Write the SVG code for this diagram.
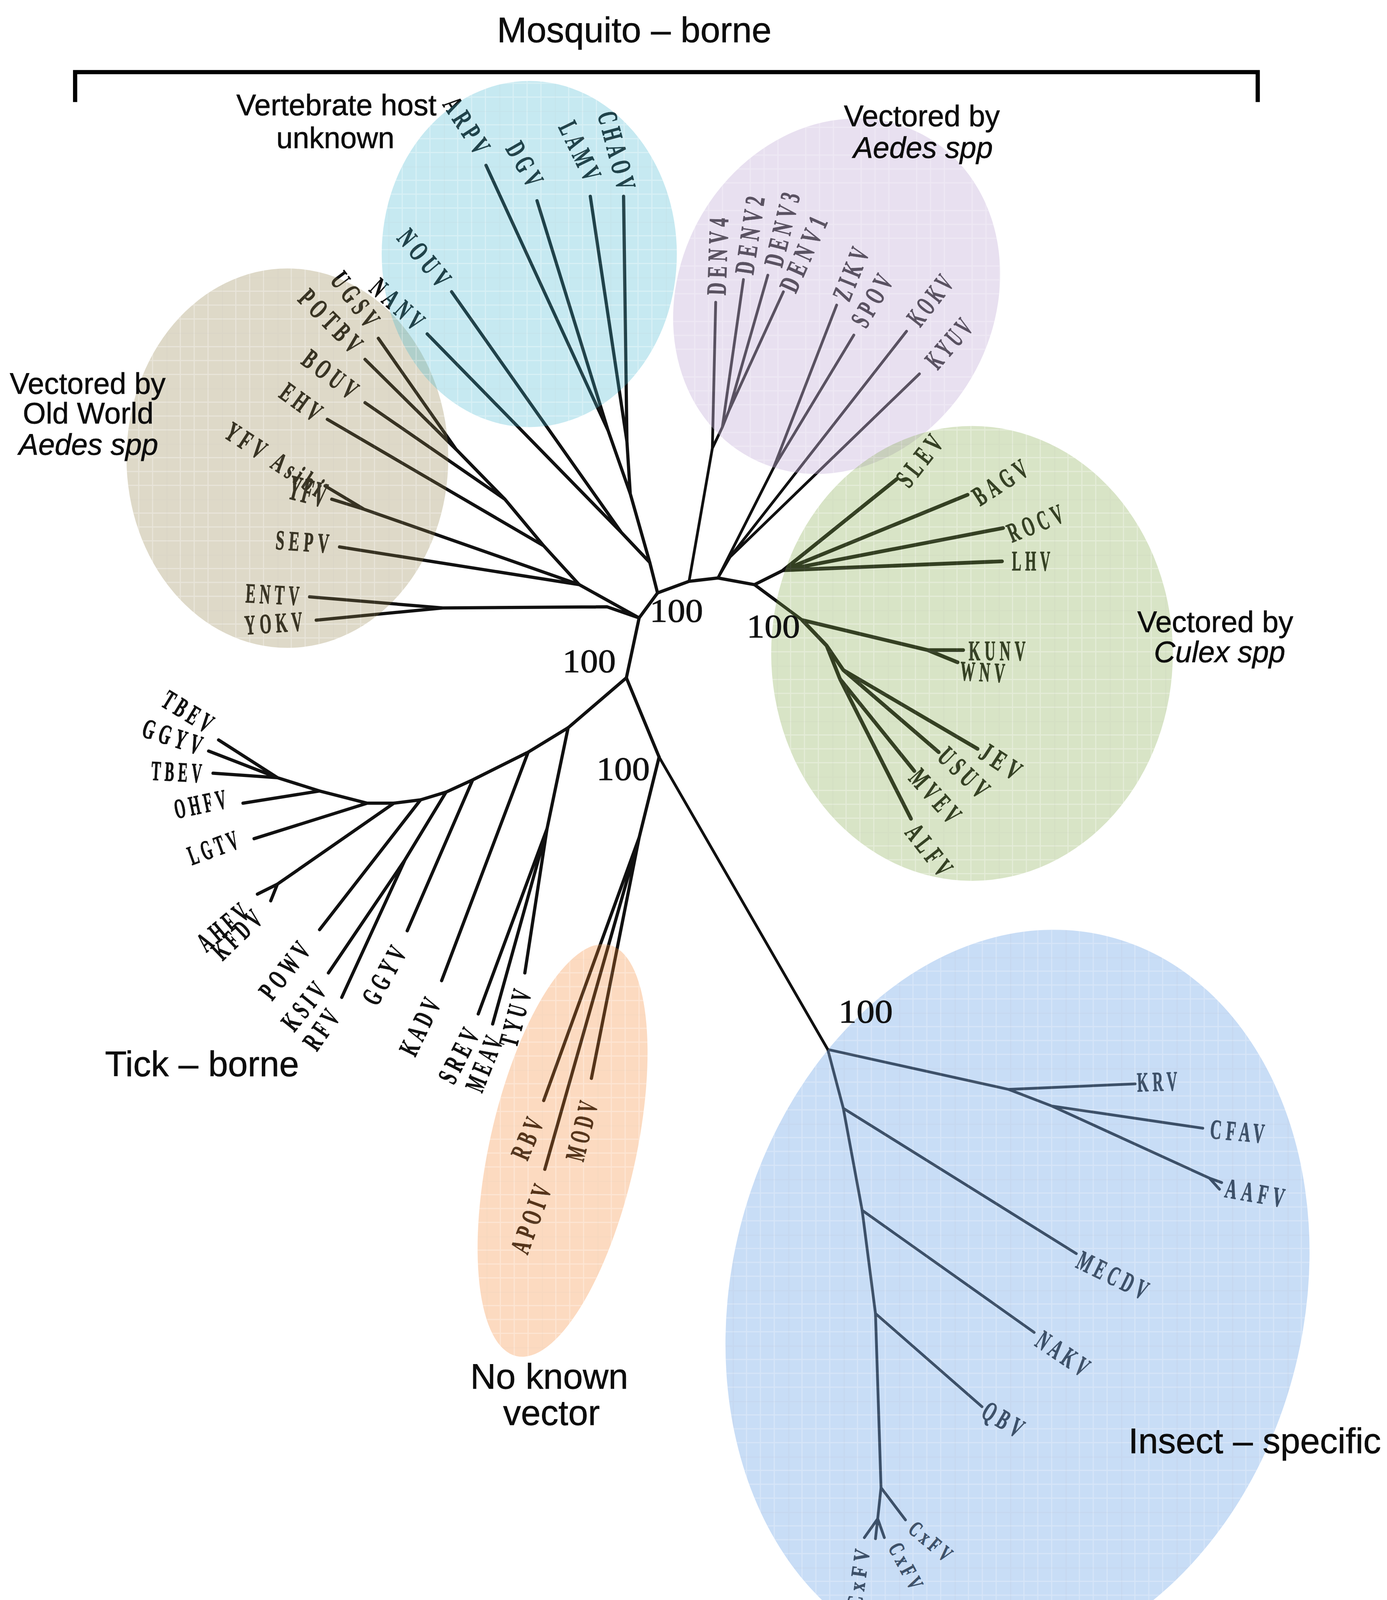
<svg xmlns="http://www.w3.org/2000/svg" width="3550" height="4466" viewBox="0 0 3550 4466">
<defs>
<style>
.t{stroke:#111;stroke-width:2.9;fill:none;stroke-linejoin:round;stroke-linecap:round}
.tg{stroke-width:3.4}
.ti{stroke-width:2.5}
.tp{stroke-width:2.5}
.lf{font-family:"Liberation Serif","DejaVu Serif",serif;font-weight:bold;font-size:25px;letter-spacing:7px;fill:#111;stroke:#111;stroke-width:.45}
.ls{font-size:20px;letter-spacing:6px}
.lb{font-size:32px;letter-spacing:3px}
.hd{font-family:"Liberation Sans",Arial,sans-serif;font-size:26.6px;fill:#0d0d0d;stroke:#0d0d0d;stroke-width:.3}
.hb{font-size:32px}
.it{font-style:italic}
.bs{font-family:"Liberation Serif","DejaVu Serif",serif;font-size:30px;fill:#111;stroke:#111;stroke-width:.4}
.sc{font-family:"Liberation Sans",Arial,sans-serif;font-size:34px;font-weight:bold;fill:#111}
.clade{stroke:none}
</style>
<pattern id="pc" patternUnits="userSpaceOnUse" width="50" height="50"><rect width="50" height="50" fill="#41b6d0"/><path d="M0 12.5H50M0 25H50M0 37.5H50M12.5 0V50M25 0V50M37.5 0V50" stroke="#fff" stroke-opacity=".3" stroke-width="1"/><path d="M0 .5H50M.5 0V50" stroke="#000" stroke-opacity=".07" stroke-width="1"/></pattern>
<pattern id="pt" patternUnits="userSpaceOnUse" width="50" height="50"><rect width="50" height="50" fill="#918048"/><path d="M0 12.5H50M0 25H50M0 37.5H50M12.5 0V50M25 0V50M37.5 0V50" stroke="#fff" stroke-opacity=".3" stroke-width="1"/><path d="M0 .5H50M.5 0V50" stroke="#000" stroke-opacity=".07" stroke-width="1"/></pattern>
<pattern id="pp" patternUnits="userSpaceOnUse" width="50" height="50" patternTransform="rotate(-28)"><rect width="50" height="50" fill="#c6b2da"/><path d="M0 12.5H50M0 25H50M0 37.5H50M12.5 0V50M25 0V50M37.5 0V50" stroke="#fff" stroke-opacity=".25" stroke-width="1"/></pattern>
<pattern id="pg" patternUnits="userSpaceOnUse" width="50" height="50"><rect width="50" height="50" fill="#81a847"/><path d="M0 12.5H50M0 25H50M0 37.5H50M12.5 0V50M25 0V50M37.5 0V50" stroke="#fff" stroke-opacity=".3" stroke-width="1"/><path d="M0 .5H50M.5 0V50" stroke="#000" stroke-opacity=".08" stroke-width="1.2"/></pattern>
<pattern id="po" patternUnits="userSpaceOnUse" width="50" height="50" patternTransform="rotate(-12.6)"><rect width="50" height="50" fill="#f5842d"/><path d="M0 12.5H50M0 25H50M0 37.5H50M12.5 0V50M25 0V50M37.5 0V50" stroke="#fff" stroke-opacity=".3" stroke-width="1"/><path d="M0 .5H50M.5 0V50" stroke="#000" stroke-opacity=".06" stroke-width="1"/></pattern>
<pattern id="pb" patternUnits="userSpaceOnUse" width="50" height="50" patternTransform="rotate(-14)"><rect width="50" height="50" fill="#7aabe8"/><path d="M0 12.5H50M0 25H50M0 37.5H50M12.5 0V50M25 0V50M37.5 0V50" stroke="#fff" stroke-opacity=".25" stroke-width="1"/><path d="M0 .5H50M.5 0V50" stroke="#000" stroke-opacity=".06" stroke-width="1.2"/></pattern>
</defs>
<rect width="3550" height="4466" fill="#fff"/>
<g transform="scale(2.84)">

<g id="connectors">
<path class="t" d="M592.6 534.5L621 524L647 521L680 527L706 514M680 527L723 559M592.6 534.5L576 557L564.5 611L594 682.4"/>
<path class="t" d="M585.6 507L592.6 534.5M568 445L585.6 507M565 398L568 445M548 388L568 445M565 398L562 177M565 398L532 177M548 388L438 149M548 388L484 181M560 480L585.6 507M560 480L407 263M560 480L385 301"/>
<path class="t" d="M576 557L522 527L490 492L455 450L411 405L341 305M411 405L329 324M455 450L329 363M490 492L295 378M522 527L328 459L293 438M328 459L299 450M522 527L306 493M576 557L547 547L399 548L279 538M399 548L285 559"/>
<path class="t tp" d="M621 524L642 404L645 272.5M642 404L651 385L670 252M651 385L657 370L692 248M657 370L706 263M647 521L697 422L754 275M697 422L769.5 302M647 521L658 502L817 298.6M658 502L828.6 337"/>
<path class="t tg" d="M706 514L808 432M706 514L872 446M706 514L904 476M706 514L903 506M723 559L836 586L868 586M836 586L863 597M723 559L745 582L760 604L881 675M760 604L846 678M745 582L757 612L824 695M757 612L821 738"/>
<path class="t" d="M564.5 611L512 656L476 678L426 703L402 714L379 721L355 724L331 724L288 713L250 701L197 667M250 701L188 677M250 701L192 697M288 713L219 724M331 724L229 756M355 724L250 797L232 806M250 797L244 812M379 721L288 838M402 714L365 775L296 877M365 775L308 899M426 703L367 839M476 678L398 884M512 656L493 747L431 914M493 747L444 923M493 747L473 877"/>
<path class="t" d="M594 682.4L576 755L490 992M576 755L491 1054M576 755L533 972"/>
<path class="t ti" d="M594 682.4L746 946L909 982L1023 977M909 982L948 997L1084 1017M948 997L1090 1062L1101 1066M1090 1062L1099 1072M746 946L760 999L777 1091L789 1184L794 1341L791 1369L779 1386M791 1369L789 1387M791 1369L797 1386M760 999L970 1130M777 1091L932 1201M789 1184L885 1268M794 1341L816 1370"/>
</g>

<g id="leaves">
<g id="n-ARPV"><text class="lf" transform="translate(398.4 94.3) rotate(57)" textLength="60" lengthAdjust="spacingAndGlyphs">ARPV</text></g>
<g id="n-DGV"><text class="lf" transform="translate(455.2 134) rotate(60)" textLength="46" lengthAdjust="spacingAndGlyphs">DGV</text></g>
<g id="n-LAMV"><text class="lf" transform="translate(502.9 114.5) rotate(64)" textLength="60" lengthAdjust="spacingAndGlyphs">LAMV</text></g>
<g id="n-CHAOV"><text class="lf" transform="translate(538.4 103.1) rotate(75)" textLength="76" lengthAdjust="spacingAndGlyphs">CHAOV</text></g>
<g id="n-NOUV"><text class="lf" transform="translate(356.9 215.1) rotate(50)" textLength="64" lengthAdjust="spacingAndGlyphs">NOUV</text></g>
<g id="n-NANV"><text class="lf" transform="translate(331.7 261.8) rotate(42)" textLength="60" lengthAdjust="spacingAndGlyphs">NANV</text></g>
<g id="n-UGSV"><text class="lf" transform="translate(296.7 252.7) rotate(53)" textLength="60" lengthAdjust="spacingAndGlyphs">UGSV</text></g>
<g id="n-POTBV"><text class="lf" transform="translate(267.4 270.6) rotate(45)" textLength="74" lengthAdjust="spacingAndGlyphs">POTBV</text></g>
<g id="n-BOUV"><text class="lf" transform="translate(270.3 327.3) rotate(37)" textLength="60" lengthAdjust="spacingAndGlyphs">BOUV</text></g>
<g id="n-EHV"><text class="lf" transform="translate(250.3 357.4) rotate(36)" textLength="44" lengthAdjust="spacingAndGlyphs">EHV</text></g>
<g id="n-YFVAsibi"><text class="lf" transform="translate(200.7 393.6) rotate(33)" textLength="104" lengthAdjust="spacingAndGlyphs">YFV Asibi</text></g>
<g id="n-YFV"><text class="lf lb" transform="translate(258 449) rotate(14)" textLength="36" lengthAdjust="spacingAndGlyphs">YFV</text></g>
<g id="n-SEPV"><text class="lf" transform="translate(248 495) rotate(4)" textLength="52" lengthAdjust="spacingAndGlyphs">SEPV</text></g>
<g id="n-ENTV"><text class="lf" transform="translate(221 543) rotate(3)" textLength="52" lengthAdjust="spacingAndGlyphs">ENTV</text></g>
<g id="n-YOKV"><text class="lf" transform="translate(221 572) rotate(-4)" textLength="56" lengthAdjust="spacingAndGlyphs">YOKV</text></g>
<g id="n-DENV4"><text class="lf" transform="translate(653.9 266.3) rotate(-88)" textLength="74" lengthAdjust="spacingAndGlyphs">DENV4</text></g>
<g id="n-DENV2"><text class="lf" transform="translate(678.8 248.2) rotate(-81.5)" textLength="75" lengthAdjust="spacingAndGlyphs">DENV2</text></g>
<g id="n-DENV3"><text class="lf" transform="translate(704.7 241.9) rotate(-76)" textLength="72" lengthAdjust="spacingAndGlyphs">DENV3</text></g>
<g id="n-DENV1"><text class="lf" transform="translate(717.2 265.2) rotate(-66)" textLength="76" lengthAdjust="spacingAndGlyphs">DENV1</text></g>
<g id="n-ZIKV"><text class="lf" transform="translate(765.3 272.9) rotate(-68)" textLength="53" lengthAdjust="spacingAndGlyphs">ZIKV</text></g>
<g id="n-SPOV"><text class="lf" transform="translate(780.5 296.9) rotate(-60)" textLength="54" lengthAdjust="spacingAndGlyphs">SPOV</text></g>
<g id="n-KOKV"><text class="lf" transform="translate(829.2 295.8) rotate(-52)" textLength="54" lengthAdjust="spacingAndGlyphs">KOKV</text></g>
<g id="n-KYUV"><text class="lf" transform="translate(845 334.2) rotate(-49)" textLength="54" lengthAdjust="spacingAndGlyphs">KYUV</text></g>
<g id="n-SLEV"><text class="lf" transform="translate(819.2 440.9) rotate(-52)" textLength="56" lengthAdjust="spacingAndGlyphs">SLEV</text></g>
<g id="n-BAGV"><text class="lf" transform="translate(883.3 456.6) rotate(-33)" textLength="58" lengthAdjust="spacingAndGlyphs">BAGV</text></g>
<g id="n-ROCV"><text class="lf" transform="translate(912 489.3) rotate(-22)" textLength="56" lengthAdjust="spacingAndGlyphs">ROCV</text></g>
<g id="n-LHV"><text class="lf" transform="translate(912 514)" textLength="38" lengthAdjust="spacingAndGlyphs">LHV</text></g>
<g id="n-KUNV"><text class="lf" transform="translate(873 595)" textLength="55" lengthAdjust="spacingAndGlyphs">KUNV</text></g>
<g id="n-WNV"><text class="lf" transform="translate(865 613) rotate(3)" textLength="44" lengthAdjust="spacingAndGlyphs">WNV</text></g>
<g id="n-JEV"><text class="lf" transform="translate(880.7 682.6) rotate(33)" textLength="44" lengthAdjust="spacingAndGlyphs">JEV</text></g>
<g id="n-USUV"><text class="lf" transform="translate(843.5 683.7) rotate(44)" textLength="58" lengthAdjust="spacingAndGlyphs">USUV</text></g>
<g id="n-MVEV"><text class="lf" transform="translate(818 702.3) rotate(48)" textLength="60" lengthAdjust="spacingAndGlyphs">MVEV</text></g>
<g id="n-ALFV"><text class="lf" transform="translate(814.8 750.9) rotate(52)" textLength="56" lengthAdjust="spacingAndGlyphs">ALFV</text></g>
<g id="n-TBEV-a"><text class="lf" transform="translate(143.9 635.7) rotate(31.5)" textLength="53" lengthAdjust="spacingAndGlyphs">TBEV</text></g>
<g id="n-GGYV-a"><text class="lf" transform="translate(126.6 663.5) rotate(18)" textLength="59" lengthAdjust="spacingAndGlyphs">GGYV</text></g>
<g id="n-TBEV-b"><text class="lf" transform="translate(136 703) rotate(3)" textLength="49" lengthAdjust="spacingAndGlyphs">TBEV</text></g>
<g id="n-OHFV"><text class="lf" transform="translate(159 738) rotate(-12)" textLength="51" lengthAdjust="spacingAndGlyphs">OHFV</text></g>
<g id="n-LGTV"><text class="lf" transform="translate(173 780) rotate(-20)" textLength="50" lengthAdjust="spacingAndGlyphs">LGTV</text></g>
<g id="n-AHFV"><text class="lf" transform="translate(186 859) rotate(-40)" textLength="56" lengthAdjust="spacingAndGlyphs">AHFV</text></g>
<g id="n-KFDV"><text class="lf" transform="translate(200.5 866.7) rotate(-44)" textLength="56" lengthAdjust="spacingAndGlyphs">KFDV</text></g>
<g id="n-POWV"><text class="lf" transform="translate(245.2 902.9) rotate(-52)" textLength="62" lengthAdjust="spacingAndGlyphs">POWV</text></g>
<g id="n-KSIV"><text class="lf" transform="translate(265.1 931) rotate(-51)" textLength="52" lengthAdjust="spacingAndGlyphs">KSIV</text></g>
<g id="n-RFV"><text class="lf" transform="translate(285.5 948.5) rotate(-55)" textLength="42" lengthAdjust="spacingAndGlyphs">RFV</text></g>
<g id="n-GGYV-b"><text class="lf" transform="translate(339.9 907.8) rotate(-61)" textLength="60" lengthAdjust="spacingAndGlyphs">GGYV</text></g>
<g id="n-KADV"><text class="lf" transform="translate(374.1 953.4) rotate(-64)" textLength="58" lengthAdjust="spacingAndGlyphs">KADV</text></g>
<g id="n-SREV"><text class="lf" transform="translate(409 978.6) rotate(-63)" textLength="56" lengthAdjust="spacingAndGlyphs">SREV</text></g>
<g id="n-MEAV"><text class="lf" transform="translate(434.3 985.9) rotate(-68)" textLength="55" lengthAdjust="spacingAndGlyphs">MEAV</text></g>
<g id="n-TYUV"><text class="lf" transform="translate(465.6 945) rotate(-75)" textLength="56" lengthAdjust="spacingAndGlyphs">TYUV</text></g>
<g id="n-RBV"><text class="lf" transform="translate(475.3 1047.1) rotate(-67)" textLength="42" lengthAdjust="spacingAndGlyphs">RBV</text></g>
<g id="n-APOIV"><text class="lf" transform="translate(475.4 1131.7) rotate(-70)" textLength="68" lengthAdjust="spacingAndGlyphs">APOIV</text></g>
<g id="n-MODV"><text class="lf" transform="translate(525.7 1047.9) rotate(-76)" textLength="58" lengthAdjust="spacingAndGlyphs">MODV</text></g>
<g id="n-KRV"><text class="lf" transform="translate(1025 984) rotate(-2)" textLength="40" lengthAdjust="spacingAndGlyphs">KRV</text></g>
<g id="n-CFAV"><text class="lf" transform="translate(1090 1026) rotate(5)" textLength="53" lengthAdjust="spacingAndGlyphs">CFAV</text></g>
<g id="n-AAFV"><text class="lf" transform="translate(1103 1079) rotate(10)" textLength="58" lengthAdjust="spacingAndGlyphs">AAFV</text></g>
<g id="n-MECDV"><text class="lf" transform="translate(968.5 1142.1) rotate(26)" textLength="72" lengthAdjust="spacingAndGlyphs">MECDV</text></g>
<g id="n-NAKV"><text class="lf" transform="translate(931.6 1212.5) rotate(34)" textLength="56" lengthAdjust="spacingAndGlyphs">NAKV</text></g>
<g id="n-QBV"><text class="lf" transform="translate(883 1276.8) rotate(30.5)" textLength="43" lengthAdjust="spacingAndGlyphs">QBV</text></g>
<g id="n-CxFV-a"><text class="lf ls" transform="translate(817.4 1380.3) rotate(40)" textLength="48" lengthAdjust="spacingAndGlyphs">CxFV</text></g>
<g id="n-CxFV-b"><text class="lf ls" transform="translate(800.1 1395.2) rotate(62)" textLength="48" lengthAdjust="spacingAndGlyphs">CxFV</text></g>
<g id="n-CxFV-c"><text class="lf ls" transform="translate(776.4 1450.3) rotate(-82)" textLength="58" lengthAdjust="spacingAndGlyphs">CxFV</text></g>
</g>

<g id="clades">
<ellipse id="clade-tan" class="clade" cx="259" cy="413" rx="145" ry="171" fill="url(#pt)" opacity=".3"/>
<ellipse id="clade-cyan" class="clade" cx="477" cy="229" rx="133" ry="156" fill="url(#pc)" opacity=".3"/>
<ellipse id="clade-purple" class="clade" cx="754" cy="267" rx="142" ry="165" transform="rotate(28 754 267)" fill="url(#pp)" opacity=".4"/>
<ellipse id="clade-green" class="clade" cx="876" cy="589" rx="181" ry="205" fill="url(#pg)" opacity=".31"/>
<ellipse id="clade-orange" class="clade" cx="507" cy="1037" rx="66" ry="190" transform="rotate(12.6 507 1037)" fill="url(#po)" opacity=".3"/>
<ellipse id="clade-blue" class="clade" cx="917" cy="1170" rx="258" ry="336" transform="rotate(14 917 1170)" fill="url(#pb)" opacity=".41"/>
</g>

<g id="bracket"><path d="M67.7 92V65H1133.5V92" fill="none" stroke="#000" stroke-width="3.8"/></g>

<g id="titles">
<text class="hd hb" x="448" y="38">Mosquito – borne</text>
<text class="hd" x="213" y="104">Vertebrate host</text>
<text class="hd" x="249" y="133.6">unknown</text>
<text class="hd" x="760.6" y="113.6">Vectored by</text>
<text class="hd it" x="769" y="142.4">Aedes spp</text>
<text class="hd" x="79" y="355" text-anchor="middle">Vectored by</text>
<text class="hd" x="79.5" y="381.7" text-anchor="middle">Old World</text>
<text class="hd it" x="79.7" y="410" text-anchor="middle">Aedes spp</text>
<text class="hd" x="1025" y="569.8">Vectored by</text>
<text class="hd it" x="1040" y="597">Culex spp</text>
<text class="hd hb" x="94.6" y="970">Tick – borne</text>
<text class="hd hb" x="495" y="1251.7" text-anchor="middle">No known</text>
<text class="hd hb" x="497" y="1284.5" text-anchor="middle">vector</text>
<text class="hd hb" x="1017" y="1310">Insect – specific</text>
</g>

<g id="bootstrap">
<text class="bs" x="585.6" y="560.6" textLength="48" lengthAdjust="spacingAndGlyphs">100</text>
<text class="bs" x="673" y="574.6" textLength="48" lengthAdjust="spacingAndGlyphs">100</text>
<text class="bs" x="507" y="606" textLength="48" lengthAdjust="spacingAndGlyphs">100</text>
<text class="bs" x="537.6" y="703" textLength="48" lengthAdjust="spacingAndGlyphs">100</text>
<text class="bs" x="755.6" y="922" textLength="49" lengthAdjust="spacingAndGlyphs">100</text>
</g>

<g id="scalebar">
<rect x="580.8" y="1500" width="130.7" height="6.5" fill="#000"/>
<text class="sc" x="640" y="1555" text-anchor="middle">0.2</text>
</g>

</g>
</svg>
